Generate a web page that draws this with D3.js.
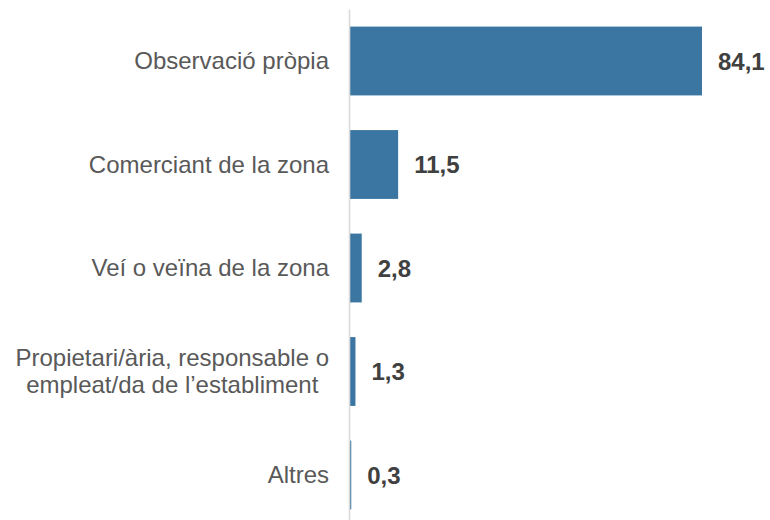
<!DOCTYPE html>
<html>
<head>
<meta charset="utf-8">
<script src="https://cdn.jsdelivr.net/npm/d3@7"></script>
<style>
  body { margin: 0; background: #fff; }
  svg { display: block; font-family: "Liberation Sans", Arial, sans-serif; }
</style>
</head>
<body>
<div id="chart"></div>
<script>
// Data
var categories = [
    ["Observació pròpia"],
    ["Comerciant de la zona"],
    ["Veí o veïna de la zona"],
    ["Propietari/ària, responsable o", "empleat/da de l’establiment"],
    ["Altres"]
];
var values = [84.1, 11.5, 2.8, 1.3, 0.3];
var valueLabels = ["84,1", "11,5", "2,8", "1,3", "0,3"];

const width = 770, height = 520;
const axisX = 349.5;

var data = values.map((v, i) => ({id: i, lines: categories[i], value: v, label: valueLabels[i]}));

var svg = d3.select("#chart").append("svg")
    .attr("width", width)
    .attr("height", height);

// Scales
var xScale = d3.scaleLinear()
    .domain([0, 84.1])
    .range([350, 702]);

var yScale = d3.scaleBand()
    .domain(data.map(d => d.id))
    .range([9.25, 526.75])
    .paddingInner(0.335)
    .paddingOuter(0.1675);

// Bars
svg.append("g").selectAll("rect")
    .data(data)
    .enter().append("rect")
    .attr("x", xScale(0))
    .attr("y", d => yScale(d.id))
    .attr("width", d => xScale(d.value) - xScale(0))
    .attr("height", yScale.bandwidth())
    .attr("fill", "#3a76a1");

// Vertical axis line
svg.append("line")
    .attr("x1", axisX).attr("x2", axisX)
    .attr("y1", 9.5).attr("y2", height)
    .attr("stroke", "#d9d9d9")
    .attr("stroke-width", 1.6);

// Value labels
svg.append("g").selectAll("text")
    .data(data)
    .enter().append("text")
    .attr("x", d => xScale(d.value) + 16)
    .attr("y", d => yScale(d.id) + yScale.bandwidth() / 2 + 8.5)
    .attr("fill", "#404040")
    .style("font-size", "24px")
    .style("font-weight", "bold")
    .text(d => d.label);

// Category labels (multi-line ones are centred within their block, block right-aligned)
var lineHeight = 27;
var labelRight = 329;
var labels = svg.append("g").selectAll("text")
    .data(data)
    .enter().append("text")
    .attr("fill", "#595959")
    .style("font-size", "24px");

labels.each(function(d) {
    var t = d3.select(this);
    var cy = yScale(d.id) + yScale.bandwidth() / 2 + 8;
    var n = d.lines.length;
    d.lines.forEach((line, i) => {
        t.append("tspan")
            .attr("y", cy + (i - (n - 1) / 2) * lineHeight)
            .text(line);
    });
    var maxW = d3.max(t.selectAll("tspan").nodes(), s => s.getComputedTextLength());
    t.attr("text-anchor", "middle");
    t.selectAll("tspan").attr("x", labelRight - maxW / 2);
});
</script>
</body>
</html>
